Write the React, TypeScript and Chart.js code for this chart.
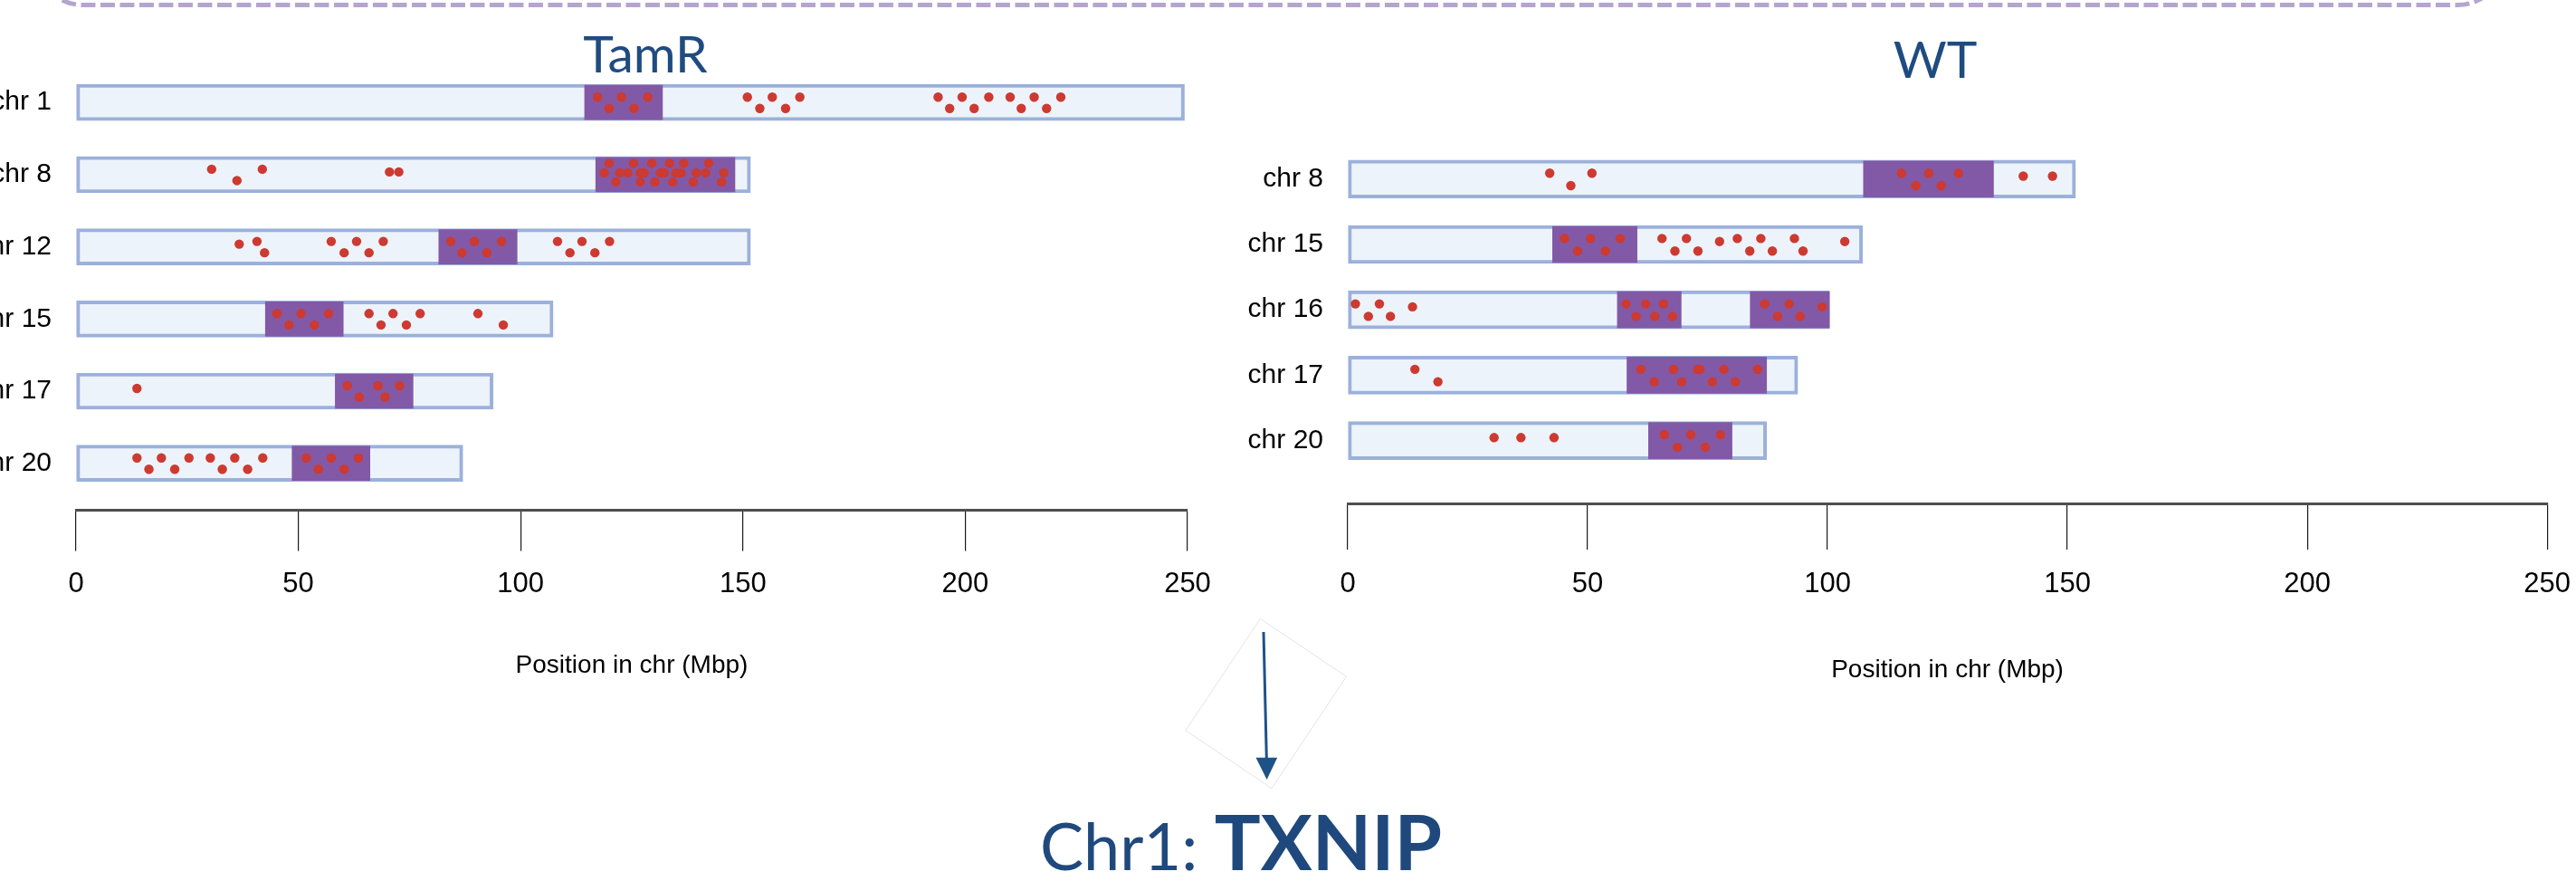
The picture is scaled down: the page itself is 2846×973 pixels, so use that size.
import React, { useEffect, useRef } from 'react';
import { Chart, registerables } from 'chart.js';

Chart.register(...registerables);

// ---------------- data ----------------
const xTickValues = [0, 50, 100, 150, 200, 250];
const axisTitle = 'Position in chr (Mbp)';

const tamrChromosomes = ['chr 1', 'chr 8', 'chr 12', 'chr 15', 'chr 17', 'chr 20'];
const tamrLengths = [249.3, 151.7, 151.7, 107.3, 93.8, 87.0];
const tamrRegions = [
  [[114.4, 131.9]],
  [[116.9, 148.2]],
  [[81.6, 99.2]],
  [[42.6, 60.1]],
  [[58.3, 75.8]],
  [[48.6, 66.1]],
];
// variant positions (Mbp), grouped in the clusters they are drawn in
const tamrVariants = [
  [[117.3, 119.9, 122.7, 125.5, 128.6], [151.0, 153.8, 156.6, 159.6, 162.8], [193.9, 196.5, 199.3, 202.0, 205.3], [210.1, 212.6, 215.5, 218.3, 221.5]],
  [[30.5, 36.2, 41.9], [70.5], [72.6], [118.8, 119.9, 121.4, 122.3, 124.1, 125.4, 126.9, 126.9, 127.8, 129.5, 130.2, 131.4, 132.3, 133.5, 134.2, 134.9, 136.1, 136.7, 138.8, 139.5, 141.6, 142.3, 145.2, 145.7]],
  [[36.7], [40.7, 42.4], [57.4, 60.3, 63.1, 65.9, 69.1], [84.3, 86.8, 89.6, 92.4, 95.7], [108.3, 111.1, 113.8, 116.7, 120.0]],
  [[45.2, 47.9, 50.6, 53.6, 56.8], [65.9, 68.6, 71.3, 74.3, 77.4], [90.4, 96.1]],
  [[13.7], [61.0, 63.7, 67.9, 69.5, 72.8]],
  [[13.7, 16.4, 19.2, 22.2, 25.4], [30.2, 32.9, 35.7, 38.6, 42.0], [51.8, 54.5, 57.4, 60.3, 63.5]],
];

const wtChromosomes = ['chr 8', 'chr 15', 'chr 16', 'chr 17', 'chr 20'];
const wtLengths = [151.7, 107.3, 100.4, 93.8, 87.3];
const wtRegions = [
  [[107.5, 134.6]],
  [[42.7, 60.3]],
  [[56.2, 69.5], [83.9, 100.4]],
  [[58.2, 87.3]],
  [[62.7, 80.1]],
];
const wtVariants = [
  [[42.1, 46.5, 50.9], [115.4, 118.4, 121.1, 123.7, 127.3], [140.8], [146.9]],
  [[45.2, 47.9, 50.6, 53.7, 56.8], [65.5, 68.2, 70.6, 73.0], [77.5], [81.2, 83.8, 86.1, 88.5], [93.1, 94.9], [103.6]],
  [[1.6, 4.3, 6.6, 8.9], [13.5], [58.0, 60.1, 62.1, 64.0], [65.8, 67.7], [86.9, 89.6, 92.0, 94.3], [98.9]],
  [[14.0, 18.8], [61.1, 63.9, 67.9, 69.6, 72.9], [73.4, 76.0, 78.4, 80.8, 85.4]],
  [[30.5], [36.1], [43.0], [66.0, 68.7, 71.5, 74.5, 77.7]],
];

// ---------------- styles / layout ----------------
const NARROW = "'Liberation Sans Narrow', 'Arial Narrow', 'Liberation Sans', Arial, sans-serif";
const HUMANIST = "Lato, 'Open Sans', 'Noto Sans', sans-serif";
const TITLE_BLUE = '#1F4C80';

const LEFT = {
  left: 0, width: 1360, height: 973,
  padTop: 85.3, padRight: 48, padBottom: 221.2, yWidth: 84,
  yMin: -0.35, yMax: 5.65, tickLen: 45, tickPad: 18, titlePad: 36.5,
  barThick: 40, regionThick: 38,
  lane: { up: 0.075, down: 0.082, dense: [-0.025, -0.157, 0.1, -0.025] },
  title: { text: 'TamR', x: 713, y: 80, size: 57 },
};
const RIGHT = {
  left: 1360, width: 1500, height: 973,
  padTop: 172.5, padRight: 36, padBottom: 216.2, yWidth: 129,
  yMin: -0.35, yMax: 4.961, tickLen: 51, tickPad: 20, titlePad: 39,
  barThick: 42, regionThick: 40,
  lane: { up: 0.091, down: 0.1, dense: [-0.02, -0.14, 0.09, -0.02] },
  title: { text: 'WT', x: 778, y: 86, size: 57 },
};

const panelTitlePlugin = {
  id: 'panelTitle',
  afterDraw(chart: any, _args: any, opts: any) {
    if (!opts || !opts.text) return;
    const ctx = chart.ctx;
    ctx.save();
    ctx.font = `${opts.size}px ${HUMANIST}`;
    ctx.fillStyle = TITLE_BLUE;
    ctx.textAlign = 'center';
    ctx.textBaseline = 'alphabetic';
    ctx.fillText(opts.text, opts.x, opts.y);
    ctx.restore();
  },
};

function buildDots(variants: number[][][], lane: any) {
  const pts: { x: number; y: number }[] = [];
  variants.forEach((clusters, i) => {
    clusters.forEach((cluster) => {
      cluster.forEach((x, k) => {
        let off: number;
        if (cluster.length === 1) off = -0.5 * lane.up;
        else if (cluster.length > 8) off = lane.dense[k % lane.dense.length];
        else off = k % 2 === 0 ? -lane.up : lane.down;
        pts.push({ x, y: i + off });
      });
    });
  });
  return pts;
}

function makeChart(canvas: HTMLCanvasElement, labels: string[], lengths: number[], regions: number[][][], variants: number[][][], L: any) {
  const bars = lengths.map((len, i) => ({ x: [0, len], y: i }));
  const regionBars = regions.flatMap((list, i) => list.map(([s, e]) => ({ x: [s, e], y: i })));
  const dots = buildDots(variants, L.lane);
  return new Chart(canvas, {
    type: 'bar',
    data: {
      datasets: [
        {
          type: 'scatter',
          data: dots,
          order: 0,
          pointRadius: 5.2,
          pointHoverRadius: 5.2,
          pointBackgroundColor: '#CC3A31',
          pointBorderWidth: 0,
          clip: false,
        } as any,
        {
          type: 'bar',
          indexAxis: 'y',
          data: regionBars,
          order: 1,
          backgroundColor: '#8259A6',
          borderWidth: 0,
          barThickness: L.regionThick,
          maxBarThickness: L.regionThick,
          grouped: false,
          clip: false,
        } as any,
        {
          type: 'bar',
          indexAxis: 'y',
          data: bars,
          order: 2,
          backgroundColor: '#EDF3FB',
          borderColor: '#9BB1DB',
          borderWidth: 4,
          borderSkipped: false,
          barThickness: L.barThick,
          maxBarThickness: L.barThick,
          grouped: false,
          clip: false,
        } as any,
      ],
    },
    options: {
      responsive: false,
      animation: false,
      devicePixelRatio: 1,
      events: [],
      layout: { padding: { left: 0, right: L.padRight, top: L.padTop, bottom: L.padBottom } },
      plugins: {
        legend: { display: false },
        tooltip: { enabled: false },
        title: { display: false },
        panelTitle: L.title,
      } as any,
      scales: {
        x: {
          type: 'linear',
          offset: false,
          beginAtZero: false,
          min: 0,
          max: 250,
          afterBuildTicks: (s: any) => { s.ticks = xTickValues.map((v) => ({ value: v })); },
          ticks: { font: { family: NARROW, size: 31 }, color: '#000', padding: L.tickPad, maxRotation: 0, autoSkip: false },
          grid: { display: true, offset: false, drawOnChartArea: false, drawTicks: true, tickLength: L.tickLen, color: '#1a1a1a', lineWidth: 1.2 },
          border: { display: true, color: '#4d4d4d', width: 3 },
          title: { display: true, text: axisTitle, font: { family: NARROW, size: 28 }, color: '#000', padding: { top: L.titlePad, bottom: 0 } },
        },
        y: {
          type: 'linear',
          offset: false,
          reverse: true,
          bounds: 'data',
          beginAtZero: false,
          min: L.yMin,
          max: L.yMax,
          afterBuildTicks: (s: any) => { s.ticks = labels.map((_, i) => ({ value: i })); },
          afterFit: (s: any) => { s.width = L.yWidth; },
          ticks: { callback: (v: any) => labels[Math.round(Number(v))], font: { family: NARROW, size: 30 }, color: '#000', padding: 27, autoSkip: false },
          grid: { display: false, offset: false, drawTicks: false },
          border: { display: false },
        },
      } as any,
    },
    plugins: [panelTitlePlugin as any],
  } as any);
}

export default function App() {
  const leftRef = useRef<HTMLCanvasElement>(null);
  const rightRef = useRef<HTMLCanvasElement>(null);

  useEffect(() => {
    const c1 = makeChart(leftRef.current!, tamrChromosomes, tamrLengths, tamrRegions, tamrVariants, LEFT);
    const c2 = makeChart(rightRef.current!, wtChromosomes, wtLengths, wtRegions, wtVariants, RIGHT);
    return () => { c1.destroy(); c2.destroy(); };
  }, []);

  return (
    <div style={{ position: 'absolute', left: 0, top: 0, width: 2846, height: 973, overflow: 'hidden', background: '#fff' }}>
      <canvas ref={leftRef} width={LEFT.width} height={LEFT.height}
        style={{ position: 'absolute', left: LEFT.left, top: 0, width: LEFT.width, height: LEFT.height }} />
      <canvas ref={rightRef} width={RIGHT.width} height={RIGHT.height}
        style={{ position: 'absolute', left: RIGHT.left, top: 0, width: RIGHT.width, height: RIGHT.height }} />
      <svg width={2846} height={973} style={{ position: 'absolute', left: 0, top: 0, pointerEvents: 'none' }}>
        <rect x={44} y={-80} width={2719} height={85.5} rx={48} ry={48} fill="none" stroke="#B5A5CE" strokeWidth={5} strokeDasharray="16 5.5" />
        <polygon points="1392.4,683.3 1487.5,747.3 1405,870.7 1309.8,806.7" fill="none" stroke="#e4e4e4" strokeWidth={1} />
        <line x1={1396} y1={698} x2={1399.4} y2={842} stroke="#1D5289" strokeWidth={3} />
        <polygon points="1387.5,836.7 1411.2,836.7 1399.6,861" fill="#1D5289" />
      </svg>
      <div style={{ position: 'absolute', left: 1149, top: 877, whiteSpace: 'nowrap', fontFamily: HUMANIST, color: '#1F497D', lineHeight: 'normal' }}>
        <span style={{ fontSize: 72 }}>Chr1: </span>
        <span style={{ fontSize: 85, fontWeight: 700 }}>TXNIP</span>
      </div>
    </div>
  );
}
